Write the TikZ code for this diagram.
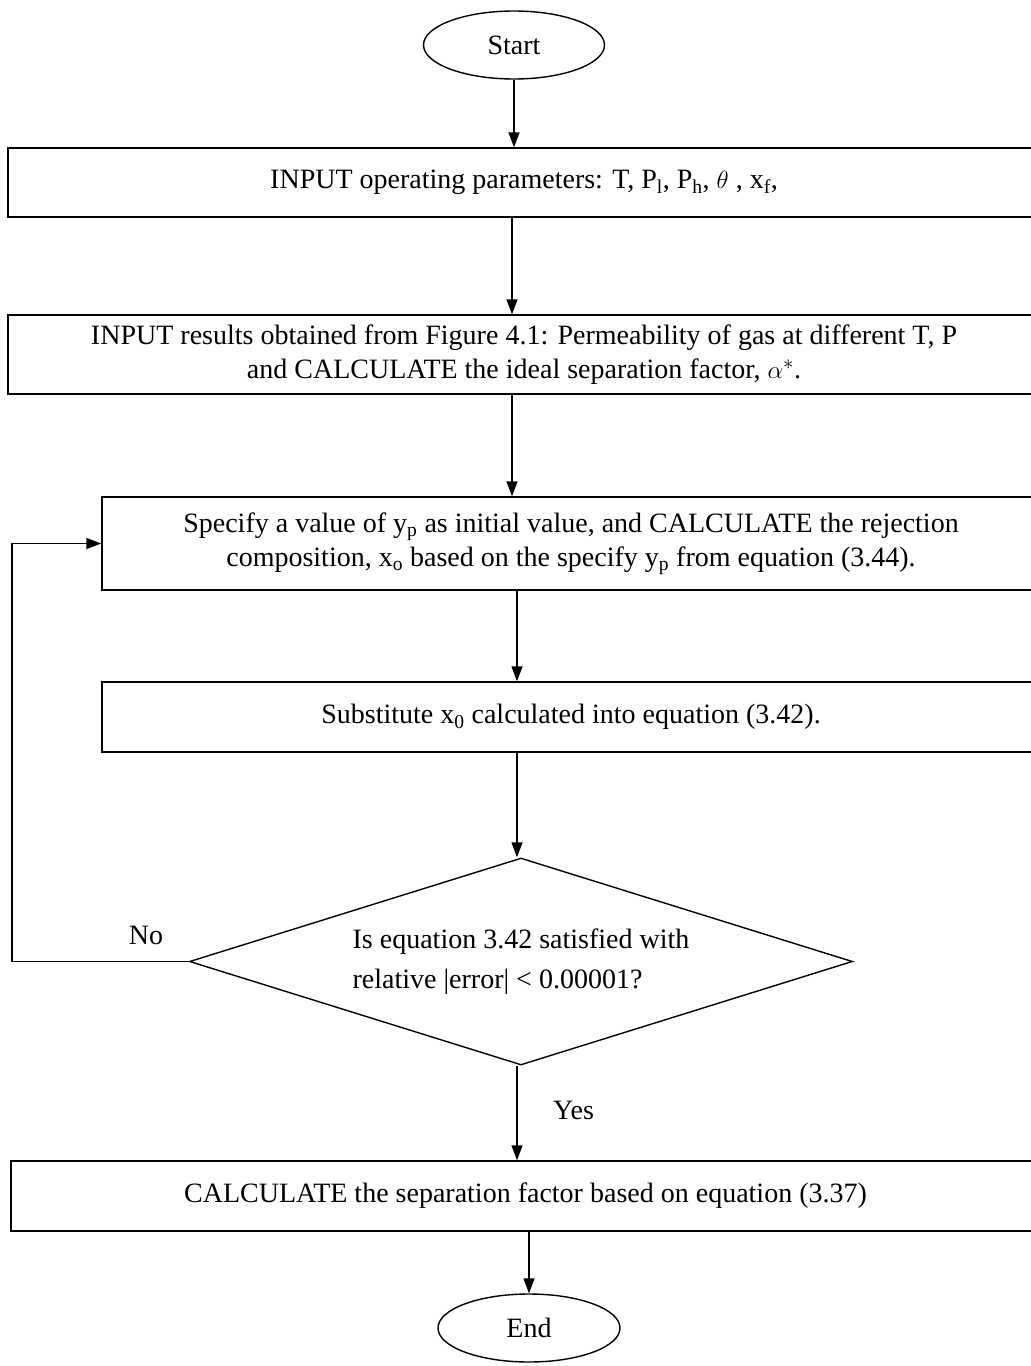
\documentclass[tikz,border=0pt]{standalone}
\usepackage{fontspec}
\setmainfont{Liberation Serif}
\usetikzlibrary{shapes.geometric,arrows.meta}
\begin{document}
\begin{tikzpicture}[x=1pt,y=-1pt,
  every node/.style={font=\fontsize{28}{34}\selectfont},
  box/.style={draw,line width=1.4pt,rectangle,inner sep=0pt,align=center},
  term/.style={draw,line width=1.4pt,ellipse,inner sep=0pt,minimum width=181pt,minimum height=68pt},
  dec/.style={draw,line width=1.4pt,diamond,inner sep=0pt,aspect=3.2,minimum width=663pt,minimum height=207pt,align=left,font=\fontsize{28}{40}\selectfont},
  arr/.style={line width=1.4pt,-{Triangle[length=15pt,width=11pt]}},
  lab/.style={inner sep=0pt}]
\useasboundingbox (0,0) rectangle (1031,1366);
\fill[white] (0,0) rectangle (1031,1366);
\node[term] (start) at (514,45) {Start};
\node[box,minimum width=1032pt,minimum height=69pt] (box1) at (524,182.5)
  {INPUT operating parameters: T, P\textsubscript{l}, P\textsubscript{h}, $\theta$ , x\textsubscript{f},};
\node[box,minimum width=1032pt,minimum height=79pt] (box2) at (524,354.5)
  {INPUT results obtained from Figure 4.1: Permeability of gas at different T, P\\and CALCULATE the ideal separation factor, $\alpha^{*}$.};
\node[box,minimum width=938pt,minimum height=93pt] (box3) at (571,543.5)
  {Specify a value of y\textsubscript{p} as initial value, and CALCULATE the rejection\\composition, x\textsubscript{o} based on the specify y\textsubscript{p} from equation (3.44).};
\node[box,minimum width=938pt,minimum height=70pt] (box4) at (571,717)
  {Substitute x\textsubscript{0} calculated into equation (3.42).};
\node[dec] (test) at (521,961.5)
  {Is equation 3.42 satisfied with\\relative |error| < 0.00001?};
\node[box,minimum width=1029pt,minimum height=70pt] (box5) at (525.5,1196)
  {CALCULATE the separation factor based on equation (3.37)};
\node[term,minimum width=182pt] (end) at (529,1328) {End};
\coordinate (ca) at (512,0);
\coordinate (cb) at (517,0);
\coordinate (cc) at (529,0);
\coordinate (fb) at (12,0);
\draw[arr] (start) -- (start |- box1.north);
\draw[arr] (ca |- box1.south) -- (ca |- box2.north);
\draw[arr] (ca |- box2.south) -- (ca |- box3.north);
\draw[arr] (cb |- box3.south) -- (cb |- box4.north);
\draw[arr] (cb |- box4.south) -- (test.north -| cb);
\draw[arr] (test.south -| cb) -- (cb |- box5.north);
\draw[arr] (cc |- box5.south) -- (end.north);
\draw[arr] (test.west) -- (test.west -| fb) |- (box3.west);
\node[lab] (no) at (146,935) {No};
\node[lab,anchor=west] (yes) at (553,1110) {Yes};
\end{tikzpicture}
\end{document}
